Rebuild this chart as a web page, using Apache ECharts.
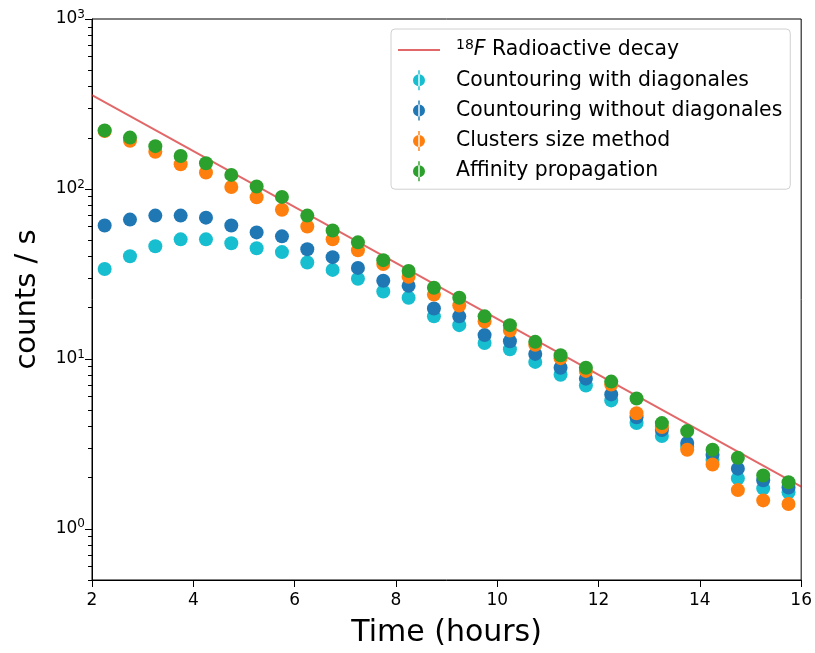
<!DOCTYPE html>
<html>
<head>
<meta charset="utf-8">
<script src="https://cdn.jsdelivr.net/npm/echarts@6/dist/echarts.min.js"></script>
<style>
  html, body { margin: 0; padding: 0; background: #fff; }
  #chart { width: 815px; height: 653px; }
</style>
</head>
<body>
<div id="chart"></div>
<script>
// time of each measurement (hours)
var times = [2.25, 2.75, 3.25, 3.75, 4.25, 4.75, 5.25, 5.75, 6.25, 6.75,
  7.25, 7.75, 8.25, 8.75, 9.25, 9.75, 10.25, 10.75, 11.25, 11.75,
  12.25, 12.75, 13.25, 13.75, 14.25, 14.75, 15.25, 15.75];

var withDiag = [33.8, 40.2, 46, 50.5, 50.5, 47.9, 44.8, 42.5, 36.9, 33.4,
  29.6, 24.9, 22.9, 17.8, 15.8, 12.4, 11.4, 9.6, 8.07, 6.97,
  5.7, 4.19, 3.52, 3.04, 2.55, 1.98, 1.73, 1.64];
var withoutDiag = [60.9, 66, 69.7, 69.7, 67.8, 60.9, 55.5, 52.6, 44.2, 39.7,
  34.3, 28.8, 26.9, 19.8, 17.8, 13.8, 12.7, 10.7, 8.87, 7.65,
  6.18, 4.54, 3.81, 3.2, 2.73, 2.26, 1.93, 1.75];
var clusterSize = [219, 191.9, 165.6, 139.7, 125, 102.7, 89.3, 75.5, 60.1, 50.5,
  43.6, 36.2, 30.4, 23.9, 20.6, 16.6, 14.7, 12.1, 10.1, 8.5,
  7.06, 4.79, 3.97, 2.92, 2.39, 1.69, 1.47, 1.4];
var affinity = [221, 200.5, 178.6, 156.2, 141.6, 121, 103.4, 89.8, 69.7, 57,
  48.5, 38.1, 32.9, 26.2, 22.9, 17.8, 15.8, 12.6, 10.5, 8.87,
  7.35, 5.85, 4.19, 3.76, 2.92, 2.62, 2.06, 1.88];

// decay line end points (straight on log axis)
var decayT = [2, 16];
var decayV = [356, 1.77];

var xTicks = [2, 4, 6, 8, 10, 12, 14, 16];
var yMajor = [1, 10, 100, 1000];
var yMinor = [0.5, 0.6, 0.7, 0.8, 0.9, 2, 3, 4, 5, 6, 7, 8, 9,
  20, 30, 40, 50, 60, 70, 80, 90, 200, 300, 400, 500, 600, 700, 800, 900];

var names = ['Countouring with diagonales', 'Countouring without diagonales',
  'Clusters size method', 'Affinity propagation'];
var colors = ['#17becf', '#1f77b4', '#ff7f0e', '#2ca02c'];
var values = [withDiag, withoutDiag, clusterSize, affinity];

var errIcon = 'path://M9.3,0H10.7V20H9.3Z M4,10A6,6 0 1,0 16,10A6,6 0 1,0 4,10Z';
var lineIcon = 'path://M0,0H42V2H0Z';
var font = 'DejaVu Sans';

function pairs(xs, ys) {
  return xs.map(function (x, i) { return [x, ys[i]]; });
}

var chart = echarts.init(document.getElementById('chart'));

var series = [{
  name: 'decay',
  type: 'line',
  symbol: 'none',
  data: pairs(decayT, decayV),
  lineStyle: { color: 'rgba(214,39,40,0.7)', width: 2 },
  itemStyle: { color: 'rgba(214,39,40,0.7)' },
  z: 2
}];
names.forEach(function (n, k) {
  series.push({
    name: n,
    type: 'scatter',
    symbolSize: 14,
    data: pairs(times, values[k]),
    itemStyle: { color: colors[k], opacity: 1 },
    z: 3 + k
  });
});

var legendData = [{ name: 'decay', icon: lineIcon }];
names.forEach(function (n) { legendData.push({ name: n, icon: errIcon }); });

chart.setOption({
  animation: false,
  textStyle: { fontFamily: font },
  grid: {
    left: 92, right: 13, top: 19, bottom: 66,
    show: true, borderColor: '#000', borderWidth: 1
  },
  legend: {
    data: legendData,
    orient: 'vertical',
    left: 391,
    top: 29,
    padding: [9, 8, 6, 7],
    itemWidth: 42,
    itemHeight: 20,
    itemGap: 6.3,
    selectedMode: false,
    backgroundColor: 'rgba(255,255,255,0.8)',
    borderColor: '#d0d0d0',
    borderWidth: 1,
    borderRadius: 4,
    formatter: function (name) {
      if (name === 'decay') return '{sup|18}{it|F} Radioactive decay';
      return name;
    },
    textStyle: {
      fontFamily: font,
      fontSize: 20.4,
      color: '#000',
      lineHeight: 24,
      padding: [0, 0, 0, 11],
      rich: {
        sup: { fontFamily: font, fontSize: 14, color: '#000', padding: [0, 0, 9, 0] },
        it: { fontFamily: font, fontSize: 20.4, fontStyle: 'italic', color: '#000' }
      }
    }
  },
  xAxis: {
    type: 'value',
    min: 2, max: 16, interval: 2,
    name: 'Time (hours)',
    nameLocation: 'middle',
    nameGap: 38,
    nameTextStyle: { fontFamily: font, fontSize: 30, color: '#000' },
    axisLine: { show: true, onZero: false, lineStyle: { color: '#000', width: 1 } },
    axisTick: { show: true, length: 7, lineStyle: { color: '#000' }, customValues: xTicks },
    axisLabel: { fontSize: 17, color: '#000', margin: 12, customValues: xTicks },
    splitLine: { show: false }
  },
  yAxis: [{
    type: 'log',
    logBase: 10,
    min: 0.5, max: 1000,
    name: 'counts / s',
    nameLocation: 'middle',
    nameGap: 50,
    nameTextStyle: { fontFamily: font, fontSize: 29, color: '#000' },
    axisLine: { show: true, lineStyle: { color: '#000', width: 1 } },
    axisTick: { show: true, length: 7, lineStyle: { color: '#000' }, customValues: yMajor },
    axisLabel: {
      customValues: yMajor,
      margin: 7,
      formatter: function (v) {
        return '{b|10}{s|' + Math.round(Math.log10(v)) + '}';
      },
      rich: {
        b: { fontFamily: font, fontSize: 17, color: '#000' },
        s: { fontFamily: font, fontSize: 12, color: '#000', padding: [0, 0, 9, 0] }
      }
    },
    splitLine: { show: false }
  }, {
    type: 'log',
    logBase: 10,
    min: 0.5, max: 1000,
    position: 'left',
    offset: 0,
    axisLine: { show: false },
    axisTick: { show: true, length: 4, lineStyle: { color: '#000' }, customValues: yMinor },
    axisLabel: { show: false },
    splitLine: { show: false }
  }],
  series: series
});
</script>
</body>
</html>
